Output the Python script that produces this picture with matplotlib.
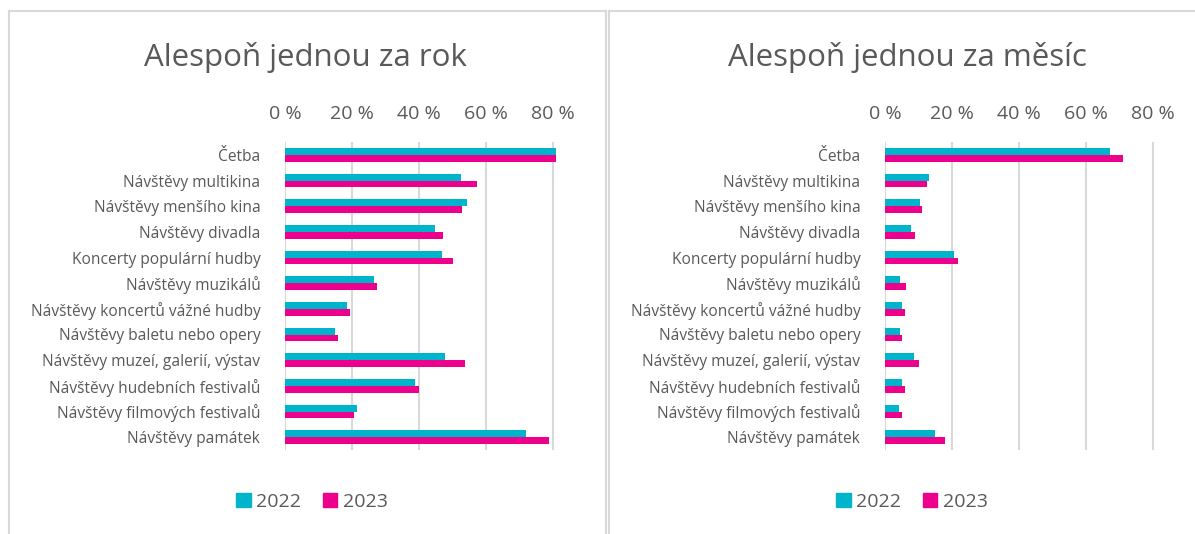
import numpy as np
import matplotlib.pyplot as plt
from matplotlib.lines import Line2D
from matplotlib.patches import Patch

plt.rcParams['font.family'] = ['Open Sans', 'DejaVu Sans']

categories = ['Četba', 'Návštěvy multikina', 'Návštěvy menšího kina', 'Návštěvy divadla',
              'Koncerty populární hudby', 'Návštěvy muzikálů', 'Návštěvy koncertů vážné hudby',
              'Návštěvy baletu nebo opery', 'Návštěvy muzeí, galerií, výstav',
              'Návštěvy hudebních festivalů', 'Návštěvy filmových festivalů', 'Návštěvy památek']

# alespoň jednou za rok (%)
rok_2022 = [80.8, 52.5, 54.1, 44.8, 46.9, 26.4, 18.3, 14.7, 47.7, 38.8, 21.5, 71.8]
rok_2023 = [80.8, 57.1, 52.7, 47.2, 50.0, 27.4, 19.3, 15.7, 53.6, 39.9, 20.6, 78.7]

# alespoň jednou za měsíc (%)
mesic_2022 = [67.0, 12.9, 10.4, 7.7, 20.5, 4.4, 5.1, 4.4, 8.6, 5.0, 4.0, 14.7]
mesic_2023 = [71.0, 12.4, 11.1, 8.8, 21.6, 6.2, 5.9, 4.9, 10.0, 5.9, 5.0, 17.9]

titles = ['Alespoň jednou za rok', 'Alespoň jednou za měsíc']
years = ['2022', '2023']
ticks = [0, 20, 40, 60, 80]

c22 = '#00B4CC'
c23 = '#EC008C'
txt = '#595959'
grid = '#D9D9D9'

W, H = 1195, 534
fig = plt.figure(figsize=(W / 100, H / 100), dpi=100)

# rámečky panelů
def line(x0, y0, x1, y1):
    fig.add_artist(Line2D([x0 / W, x1 / W], [1 - y0 / H, 1 - y1 / H], color=grid, lw=1.5))

line(9, 11, 605, 11)
line(9, 11, 9, 534)
line(606, 11, 606, 534)
line(609, 11, 609, 534)
line(609, 11, 1195, 11)

panels = [(rok_2022, rok_2023, 285.3, 305.5, 312),
          (mesic_2022, mesic_2023, 885.3, 907, 912)]

y = np.arange(len(categories))
h = 0.26

for k, (v22, v23, x0, tx, lx) in enumerate(panels):
    ax = fig.add_axes([x0 / W, (H - 450) / H, 301.5 / W, 308 / H])
    ax.barh(y - h / 2, v22, height=h, color=c22, label=years[0])
    ax.barh(y + h / 2, v23, height=h, color=c23, label=years[1])
    ax.set_xlim(0, 90)
    ax.set_ylim(len(categories) - 0.5, -0.5)
    ax.set_xticks(ticks)
    ax.set_xticklabels([f'{t} %' for t in ticks])
    ax.set_yticks(y)
    ax.set_yticklabels(categories)
    ax.xaxis.tick_top()
    ax.tick_params(axis='x', length=0, pad=14, labelsize=14, labelcolor=txt)
    ax.tick_params(axis='y', length=0, pad=18, labelsize=11.2, labelcolor=txt)
    ax.grid(axis='x', color=grid, lw=1.5)
    ax.set_axisbelow(True)
    for s in ax.spines.values():
        s.set_visible(False)

    fig.text(tx / W, 1 - 66 / H, titles[k], ha='center', va='baseline',
             fontsize=22.5, color=txt)

    handles = [Patch(color=c22), Patch(color=c23)]
    fig.legend(handles, years, loc='center', bbox_to_anchor=(lx / W, 1 - 502 / H),
               ncol=2, frameon=False, fontsize=14, labelcolor=txt,
               handlelength=0.75, handleheight=0.75, handletextpad=0.3,
               columnspacing=1.1)

plt.savefig('out.png', dpi=100)
